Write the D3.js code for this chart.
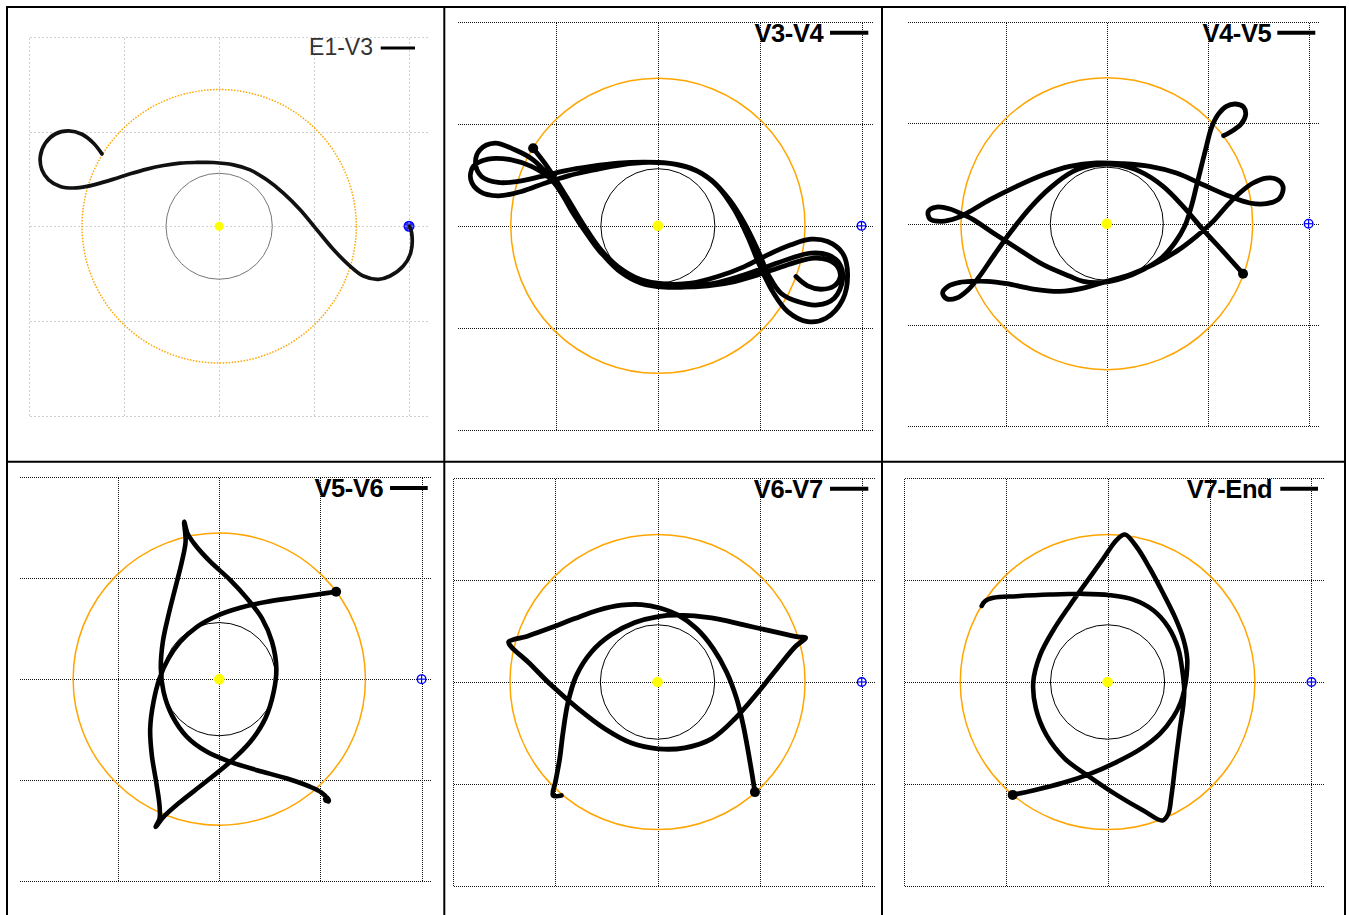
<!DOCTYPE html>
<html><head><meta charset="utf-8">
<script src="https://cdn.jsdelivr.net/npm/d3@7"></script>
<style>html,body{margin:0;padding:0;background:#fff;} svg{display:block;}</style>
</head><body>
<svg id="chart" width="1349" height="915"></svg>
<script>
// ---------- data ----------
const gridTicks = [-2, -1, 0, 1, 2];
const innerRadius = 0.56;
const orbitRadius = 1.445;
const markerPos = [2, 0];
const panelLabels = ["E1-V3", "V3-V4", "V4-V5", "V5-V6", "V6-V7", "V7-End"];

const trajE1V3 = [[2.004,0],[2.028,-0.07],[2.018,-0.281],[1.94,-0.421],[1.8,-0.526],[1.677,-0.561],[1.519,-0.526],[1.379,-0.421],[1.204,-0.246],[1.028,-0.035],[0.853,0.175],[0.677,0.351],[0.502,0.491],[0.326,0.596],[0.151,0.649],[-0.06,0.674],[-0.235,0.674],[-0.411,0.667],[-0.586,0.642],[-0.761,0.604],[-0.937,0.554],[-1.112,0.498],[-1.253,0.456],[-1.393,0.421],[-1.533,0.404],[-1.674,0.421],[-1.796,0.491],[-1.867,0.596],[-1.884,0.737],[-1.832,0.877],[-1.726,0.975],[-1.586,1.007],[-1.446,0.972],[-1.323,0.877],[-1.235,0.765]];

const trajV3V4 = [[1.356,-0.497],[1.471,-0.588],[1.601,-0.621],[1.732,-0.588],[1.791,-0.497],[1.765,-0.399],[1.667,-0.333],[1.536,-0.317],[1.373,-0.35],[1.176,-0.415],[0.98,-0.48],[0.752,-0.546],[0.49,-0.588],[0.229,-0.601],[0,-0.588],[-0.212,-0.529],[-0.392,-0.415],[-0.556,-0.268],[-0.703,-0.072],[-0.833,0.124],[-0.948,0.32],[-1.078,0.5],[-1.225,0.647],[-1.405,0.745],[-1.601,0.81],[-1.748,0.745],[-1.791,0.614],[-1.732,0.484],[-1.569,0.425],[-1.373,0.435],[-1.144,0.484],[-0.915,0.539],[-0.654,0.582],[-0.392,0.614],[-0.131,0.624],[0.098,0.614],[0.327,0.565],[0.523,0.451],[0.703,0.255],[0.85,0.026],[0.98,-0.235],[1.095,-0.497],[1.209,-0.66],[1.373,-0.742],[1.569,-0.775],[1.732,-0.709],[1.814,-0.529],[1.781,-0.366],[1.667,-0.284],[1.503,-0.268],[1.307,-0.317],[1.078,-0.399],[0.85,-0.48],[0.588,-0.556],[0.327,-0.595],[0.065,-0.601],[-0.163,-0.562],[-0.359,-0.458],[-0.523,-0.301],[-0.67,-0.105],[-0.801,0.108],[-0.931,0.304],[-1.062,0.467],[-1.242,0.582],[-1.438,0.647],[-1.667,0.654],[-1.814,0.582],[-1.837,0.451],[-1.748,0.337],[-1.569,0.294],[-1.34,0.337],[-1.111,0.418],[-0.882,0.49],[-0.621,0.549],[-0.359,0.598],[-0.098,0.621],[0.163,0.605],[0.392,0.533],[0.588,0.386],[0.752,0.157],[0.882,-0.105],[0.997,-0.382],[1.127,-0.644],[1.275,-0.84],[1.471,-0.938],[1.65,-0.905],[1.814,-0.725],[1.863,-0.464],[1.814,-0.268],[1.667,-0.154],[1.503,-0.131],[1.307,-0.186],[1.078,-0.284],[0.85,-0.399],[0.588,-0.497],[0.327,-0.562],[0.065,-0.569],[-0.163,-0.529],[-0.392,-0.399],[-0.572,-0.219],[-0.719,-0.007],[-0.85,0.206],[-0.98,0.418],[-1.111,0.614],[-1.225,0.761]];

const trajV4V5 = [[1.158,0.871],[1.251,0.924],[1.333,0.99],[1.376,1.079],[1.356,1.155],[1.277,1.185],[1.185,1.162],[1.102,1.079],[1.036,0.947],[0.987,0.766],[0.937,0.568],[0.888,0.37],[0.838,0.172],[0.772,-0.026],[0.673,-0.191],[0.541,-0.34],[0.36,-0.455],[0.162,-0.538],[-0.036,-0.581],[-0.234,-0.571],[-0.366,-0.521],[-0.63,-0.406],[-0.894,-0.241],[-1.125,-0.092],[-1.323,0.04],[-1.422,0.089],[-1.554,0.145],[-1.686,0.165],[-1.769,0.122],[-1.752,0.046],[-1.637,0.023],[-1.488,0.056],[-1.356,0.122],[-1.158,0.238],[-0.894,0.37],[-0.63,0.485],[-0.366,0.568],[-0.102,0.601],[0.162,0.594],[0.426,0.568],[0.69,0.502],[0.954,0.386],[1.218,0.271],[1.416,0.205],[1.581,0.198],[1.713,0.254],[1.746,0.37],[1.68,0.442],[1.581,0.452],[1.449,0.403],[1.317,0.304],[1.185,0.172],[1.053,0.023],[0.888,-0.125],[0.69,-0.274],[0.459,-0.406],[0.228,-0.505],[-0.003,-0.571],[-0.234,-0.637],[-0.465,-0.67],[-0.729,-0.647],[-0.993,-0.594],[-1.191,-0.571],[-1.323,-0.571],[-1.455,-0.581],[-1.571,-0.62],[-1.627,-0.686],[-1.587,-0.743],[-1.488,-0.736],[-1.373,-0.653],[-1.274,-0.538],[-1.125,-0.323],[-0.96,-0.092],[-0.762,0.155],[-0.564,0.353],[-0.333,0.518],[-0.102,0.584],[0.096,0.584],[0.327,0.518],[0.558,0.37],[0.756,0.172],[0.954,-0.059],[1.152,-0.274],[1.35,-0.495]];

const trajV5V6 = [[1.155,0.865],[0.967,0.838],[0.736,0.805],[0.472,0.766],[0.208,0.706],[-0.023,0.627],[-0.221,0.518],[-0.386,0.37],[-0.502,0.205],[-0.591,0.007],[-0.65,-0.224],[-0.683,-0.488],[-0.667,-0.752],[-0.624,-1.017],[-0.591,-1.248],[-0.591,-1.38],[-0.63,-1.462],[-0.551,-1.363],[-0.386,-1.215],[-0.155,-1.033],[0.109,-0.818],[0.307,-0.62],[0.455,-0.389],[0.538,-0.125],[0.564,0.106],[0.521,0.37],[0.422,0.601],[0.274,0.799],[0.109,0.98],[-0.089,1.162],[-0.238,1.327],[-0.314,1.442],[-0.347,1.558],[-0.333,1.36],[-0.37,1.162],[-0.436,0.898],[-0.502,0.634],[-0.558,0.37],[-0.578,0.106],[-0.551,-0.125],[-0.469,-0.356],[-0.32,-0.571],[-0.122,-0.719],[0.109,-0.818],[0.373,-0.901],[0.67,-0.983],[0.901,-1.066],[1.007,-1.12],[1.066,-1.178],[1.079,-1.21],[1.046,-1.188],[1.062,-1.17],[1.083,-1.205],[1.052,-1.2]];

const trajV6V7 = [[0.954,-1.078],[0.928,-0.915],[0.889,-0.686],[0.84,-0.425],[0.775,-0.163],[0.676,0.098],[0.546,0.327],[0.382,0.523],[0.203,0.654],[0.023,0.725],[-0.157,0.758],[-0.353,0.752],[-0.582,0.703],[-0.81,0.621],[-1.039,0.533],[-1.268,0.451],[-1.458,0.392],[-1.431,0.343],[-1.268,0.196],[-1.039,-0.033],[-0.778,-0.261],[-0.516,-0.458],[-0.255,-0.598],[0.007,-0.654],[0.268,-0.644],[0.529,-0.556],[0.758,-0.359],[0.987,-0.098],[1.183,0.147],[1.346,0.343],[1.451,0.435],[1.379,0.441],[1.183,0.484],[0.856,0.556],[0.529,0.627],[0.203,0.654],[0.007,0.641],[-0.222,0.582],[-0.451,0.464],[-0.647,0.294],[-0.794,0.065],[-0.876,-0.196],[-0.925,-0.49],[-0.958,-0.752],[-1.0,-0.98],[-1.023,-1.111],[-0.941,-1.111]];

const trajV7End = [[-0.931,-1.105],[-0.729,-1.062],[-0.435,-0.987],[-0.173,-0.899],[0.088,-0.784],[0.317,-0.66],[0.513,-0.507],[0.644,-0.343],[0.719,-0.196],[0.752,-0.078],[0.775,0.065],[0.781,0.229],[0.742,0.425],[0.66,0.637],[0.546,0.866],[0.415,1.111],[0.284,1.324],[0.17,1.444],[0.088,1.389],[-0.042,1.209],[-0.206,0.98],[-0.369,0.752],[-0.533,0.507],[-0.663,0.261],[-0.729,0],[-0.703,-0.261],[-0.598,-0.523],[-0.418,-0.752],[-0.173,-0.931],[0.088,-1.105],[0.35,-1.258],[0.539,-1.356],[0.595,-1.291],[0.627,-1.111],[0.667,-0.784],[0.709,-0.458],[0.742,-0.229],[0.752,-0.078],[0.735,0.098],[0.693,0.327],[0.595,0.539],[0.448,0.703],[0.252,0.807],[0.023,0.85],[-0.239,0.863],[-0.565,0.856],[-0.892,0.84],[-1.121,0.824],[-1.203,0.791],[-1.235,0.745]];

// ---------- layout ----------
const layouts = [
  {traj: trajE1V3, xd:[-2,2.2], xr:[29.3,428], yr:[415.5,37], light:true, linePad:13, lineLen:34.3, textGap:7.7, base:18.3, fs:23, lw:3.7, dot:false},
  {traj: trajV3V4.slice().reverse(), xd:[-1.97,2.1], xr:[457.3,871.7], yr:[430,21.7], linePad:3.4, lineLen:38.3, textGap:6.7, base:20, fs:25.5, lw:4.8, dot:true},
  {traj: trajV4V5.slice().reverse(), xd:[-1.98,2.1], xr:[907,1318.7], yr:[425.7,21.7], linePad:3.4, lineLen:38, textGap:6, base:20, fs:25.5, lw:4.8, dot:true},
  {traj: trajV5V6, xd:[-1.98,2.09], xr:[19,430.7], yr:[881.3,477], linePad:3, lineLen:37.7, textGap:6.7, base:20, fs:25.5, lw:4.6, dot:true},
  {traj: trajV6V7, xd:[-2,2.13], xr:[453.3,875], yr:[886.3,477.7], linePad:6.7, lineLen:38.3, textGap:7.3, base:20.5, fs:25.5, lw:4.8, dot:true},
  {traj: trajV7End, xd:[-2,2.12], xr:[903.7,1323.7], yr:[886.3,477.7], linePad:5.7, lineLen:37.7, textGap:8, base:20.5, fs:25.5, lw:4.6, dot:true}
];

const svg = d3.select("#chart");
svg.append("rect").attr("width",1349).attr("height",915).attr("fill","#fff");
const px = v => Math.round(v) + 0.5;

layouts.forEach((L, i) => {
  const x = d3.scaleLinear().domain(L.xd).range(L.xr);
  const y = d3.scaleLinear().domain([-2,2]).range(L.yr);
  const g = svg.append("g");
  const gridColor = L.light ? "#d0d0d0" : "#111";
  const gridDash = L.light ? "2,2" : "1,1";
  // vertical grid
  g.selectAll(".vg").data(gridTicks.filter(t => t >= L.xd[0] - 1e-9 && t <= L.xd[1]))
    .enter().append("line")
    .attr("x1", d => px(x(d))).attr("x2", d => px(x(d)))
    .attr("y1", px(y(2))).attr("y2", px(y(-2)))
    .attr("stroke", gridColor).attr("stroke-width", 1).attr("stroke-dasharray", gridDash)
    .attr("shape-rendering","crispEdges");
  // horizontal grid
  g.selectAll(".hg").data(gridTicks).enter().append("line")
    .attr("x1", px(L.xr[0])).attr("x2", px(L.xr[1]))
    .attr("y1", d => px(y(d))).attr("y2", d => px(y(d)))
    .attr("stroke", gridColor).attr("stroke-width", 1).attr("stroke-dasharray", gridDash)
    .attr("shape-rendering","crispEdges");
  // orbit circle (orange)
  g.append("ellipse")
    .attr("cx", x(0)).attr("cy", y(0))
    .attr("rx", x(orbitRadius) - x(0)).attr("ry", y(0) - y(orbitRadius))
    .attr("fill","none").attr("stroke","#ffa500")
    .attr("stroke-width", L.light ? 1.5 : 1.5)
    .attr("stroke-dasharray", L.light ? "1.5,1.5" : null);
  // inner circle
  g.append("ellipse")
    .attr("cx", x(0)).attr("cy", y(0))
    .attr("rx", x(innerRadius) - x(0)).attr("ry", y(0) - y(innerRadius))
    .attr("fill","none").attr("stroke", L.light ? "#777" : "#000").attr("stroke-width", 1);
  // sun
  g.append("circle").attr("cx", x(0)).attr("cy", y(0)).attr("r", L.light ? 4.5 : 5.3).attr("fill","#ffff00");
  // marker
  const mx = x(markerPos[0]), my = y(markerPos[1]);
  g.append("circle").attr("cx", mx).attr("cy", my).attr("r", L.light ? 4.8 : 4.3)
    .attr("fill", L.light ? "#2a2aff" : "#fff").attr("stroke","#0000ff").attr("stroke-width", 1.4);
  g.append("line").attr("x1", mx-4.3).attr("x2", mx+4.3).attr("y1", my).attr("y2", my)
    .attr("stroke", L.light ? "#8888ff" : "#0000ff").attr("stroke-width", 1.2);
  g.append("line").attr("x1", mx).attr("x2", mx).attr("y1", my-4.3).attr("y2", my+4.3)
    .attr("stroke", L.light ? "#8888ff" : "#0000ff").attr("stroke-width", 1.2);
  // trajectory
  const line = d3.line().x(d => x(d[0])).y(d => y(d[1])).curve(d3.curveCatmullRom.alpha(0.5));
  g.append("path").datum(L.traj).attr("d", line)
    .attr("fill","none").attr("stroke", L.light ? "#111" : "#000")
    .attr("stroke-width", L.lw).attr("stroke-linejoin","round").attr("stroke-linecap","round");
  if (L.dot) {
    const s = L.traj[0];
    g.append("circle").attr("cx", x(s[0])).attr("cy", y(s[1])).attr("r", 5).attr("fill","#000");
  }
  // legend
  const top = L.yr[1];
  const lx2 = L.xr[1] - L.linePad, lx1 = lx2 - L.lineLen, ly = top + 11;
  g.append("line").attr("x1", lx1).attr("x2", lx2).attr("y1", ly).attr("y2", ly)
    .attr("stroke","#000").attr("stroke-width", L.light ? 3 : 4);
  g.append("text").attr("x", lx1 - L.textGap).attr("y", top + L.base)
    .attr("text-anchor","end")
    .attr("font-family","'Liberation Sans', Arial, sans-serif")
    .attr("font-size", L.fs)
    .attr("font-weight", L.light ? "normal" : "bold")
    .attr("fill", L.light ? "#333" : "#000")
    .attr("letter-spacing", L.light ? 0 : -0.4)
    .text(panelLabels[i]);
});

// table borders
const borderX = [7, 444.3, 882, 1345];
const borderY = [7, 461.7];
svg.selectAll(".bx").data(borderX).enter().append("line")
  .attr("x1", d => d).attr("x2", d => d).attr("y1", 6).attr("y2", 920)
  .attr("stroke","#000").attr("stroke-width", 2);
svg.selectAll(".by").data(borderY).enter().append("line")
  .attr("x1", 6).attr("x2", 1346).attr("y1", d => d).attr("y2", d => d)
  .attr("stroke","#000").attr("stroke-width", 2);
</script>
</body></html>
